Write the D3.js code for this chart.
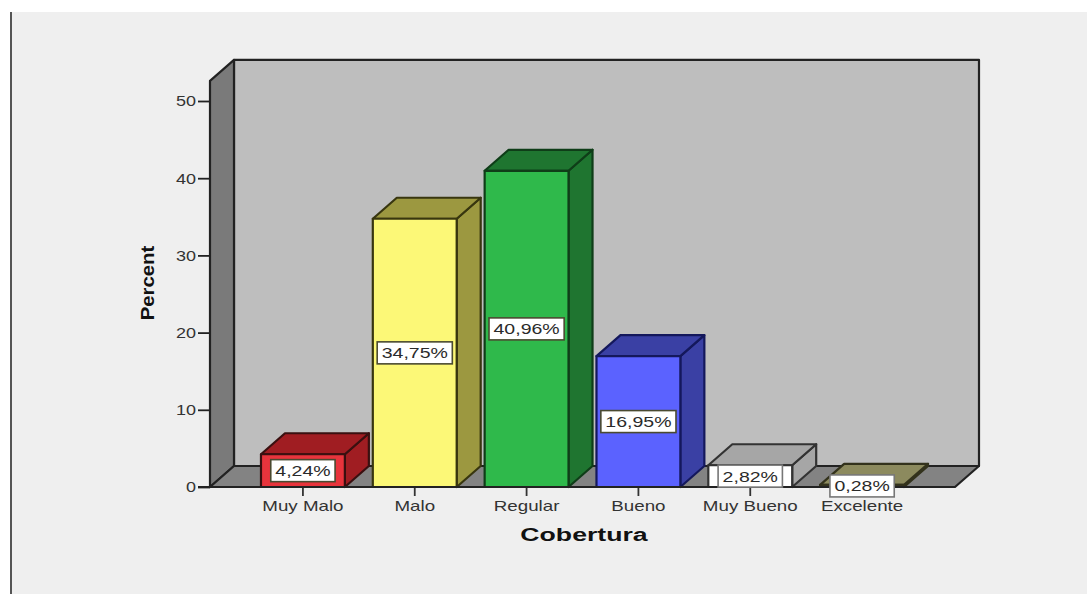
<!DOCTYPE html>
<html>
<head>
<meta charset="utf-8">
<script src="https://cdnjs.cloudflare.com/ajax/libs/d3/7.8.5/d3.min.js"></script>
<style>
  html, body { margin: 0; padding: 0; background: #fff; }
  svg { display: block; font-family: "Liberation Sans", Arial, sans-serif; }
</style>
</head>
<body>
<svg id="chart" width="1087" height="594"></svg>
<script>
const categories = ["Muy Malo", "Malo", "Regular", "Bueno", "Muy Bueno", "Excelente"];
const percents = [4.24, 34.75, 40.96, 16.95, 2.82, 0.28];
const valueLabels = ["4,24%", "34,75%", "40,96%", "16,95%", "2,82%", "0,28%"];
const frontColors = ["#e8343c", "#fcf877", "#2fb94b", "#5b62ff", "#ffffff", "#fcf877"];
const sideColors = ["#a01d22", "#9c9840", "#1f7530", "#3a40a4", "#a6a6a6", "#8c8a5e"];
const topColors = ["#a01d22", "#9c9840", "#1f7530", "#3a40a4", "#a6a6a6", "#8c8a5e"];
const edgeColors = ["#3a1010", "#38360f", "#0f3d18", "#14185c", "#333333", "#33321c"];
const yTicks = [0, 10, 20, 30, 40, 50];
const wallTopValue = 52.6;

const svg = d3.select("#chart");
const depthX = 24, depthY = 21;
const y = d3.scaleLinear().domain([0, 50]).range([487, 101]);
const x = d3.scaleBand().domain(categories).range([247, 918])
  .paddingInner(0.25).paddingOuter(0.125);
const floorLeft = 210, floorRight = 955;

// Widens text horizontally while keeping its height
function widen(sel, factor) {
  sel.each(function () {
    const len = this.getComputedTextLength();
    d3.select(this).attr("textLength", len * factor).attr("lengthAdjust", "spacingAndGlyphs");
  });
}
const poly = pts => pts.map(p => p.join(",")).join(" ");

// Panel background and the rule along its left side
svg.append("rect").attr("x", 11).attr("y", 12).attr("width", 1076).attr("height", 582).attr("fill", "#efefef");
svg.append("line").attr("x1", 11).attr("x2", 11).attr("y1", 12).attr("y2", 594)
  .attr("stroke", "#555").attr("stroke-width", 2);

// Back wall, side wall and floor of the 3D box
const wallTop = y(wallTopValue), base = y(0);
const wallStroke = { stroke: "#222", width: 2.2 };
function face(points, fill, stroke, width) {
  return svg.append("polygon").attr("points", poly(points)).attr("fill", fill)
    .attr("stroke", stroke).attr("stroke-width", width).attr("stroke-linejoin", "round");
}
face([[floorLeft + depthX, wallTop - depthY], [floorRight + depthX, wallTop - depthY],
      [floorRight + depthX, base - depthY], [floorLeft + depthX, base - depthY]], "#bebebe", wallStroke.stroke, wallStroke.width);
face([[floorLeft, wallTop], [floorLeft + depthX, wallTop - depthY],
      [floorLeft + depthX, base - depthY], [floorLeft, base]], "#7a7a7a", wallStroke.stroke, wallStroke.width);
face([[floorLeft, base], [floorLeft + depthX, base - depthY],
      [floorRight + depthX, base - depthY], [floorRight, base]], "#838383", wallStroke.stroke, wallStroke.width);

// Value axis
const yAxis = svg.append("g").attr("transform", `translate(${floorLeft},0)`)
  .call(d3.axisLeft(y).tickValues(yTicks).tickSize(12).tickPadding(2).tickFormat(d3.format("d")));
yAxis.select(".domain").remove();
yAxis.selectAll("line").attr("stroke", "#222").attr("stroke-width", 1.8);
yAxis.selectAll("text").attr("font-size", 15).attr("fill", "#333").call(widen, 1.2);

// Category axis
const xAxis = svg.append("g").attr("transform", `translate(0,${base})`)
  .call(d3.axisBottom(x).tickSize(9).tickPadding(4));
xAxis.select(".domain").remove();
xAxis.selectAll("line").attr("stroke", "#333").attr("stroke-width", 1.8);
xAxis.selectAll("text").attr("font-size", 15).attr("fill", "#333").call(widen, 1.25);

// Bars: side, top, then front face
const bars = svg.append("g").selectAll("g").data(categories).join("g");
bars.each(function (c, i) {
  const g = d3.select(this);
  const x0 = x(c), x1 = x0 + x.bandwidth(), yv = y(percents[i]);
  const add = (pts, fill) => g.append("polygon").attr("points", poly(pts)).attr("fill", fill)
    .attr("stroke", edgeColors[i]).attr("stroke-width", 2.2).attr("stroke-linejoin", "round");
  add([[x1, yv], [x1 + depthX, yv - depthY], [x1 + depthX, base - depthY], [x1, base]], sideColors[i]);
  add([[x0, yv], [x0 + depthX, yv - depthY], [x1 + depthX, yv - depthY], [x1, yv]], topColors[i]);
  add([[x0, yv], [x1, yv], [x1, base], [x0, base]], frontColors[i]);
});

// Baseline running under the floor and tick of zero
svg.append("line").attr("x1", 198).attr("x2", floorRight).attr("y1", base).attr("y2", base)
  .attr("stroke", "#222").attr("stroke-width", 2);

// Value labels in boxes centred on each bar's front face
const labels = svg.append("g").selectAll("g").data(categories).join("g")
  .attr("transform", (c, i) => `translate(${x(c) + x.bandwidth() / 2},${(y(percents[i]) + base) / 2})`);
labels.append("text").text((c, i) => valueLabels[i])
  .attr("text-anchor", "middle").attr("dy", "0.36em")
  .attr("font-size", 15).attr("fill", "#2a2a2a").call(widen, 1.3);
labels.insert("rect", "text").each(function () {
  const w = this.parentNode.querySelector("text").getComputedTextLength();
  d3.select(this).attr("x", -w / 2 - 4.5).attr("y", -11).attr("width", w + 9).attr("height", 22);
}).attr("fill", "#fff").attr("stroke", (c, i) => i === 4 || i === 5 ? "#777" : "#4a4a30").attr("stroke-width", 1.6);

// Axis titles
const yTitle = svg.append("text").text("Percent")
  .attr("transform", "translate(147,283) rotate(-90)")
  .attr("text-anchor", "middle").attr("dy", "0.36em")
  .attr("font-size", 19).attr("font-weight", "bold").attr("fill", "#111");
yTitle.call(widen, 1.07);
const xTitle = svg.append("text").text("Cobertura")
  .attr("x", 584).attr("y", 535).attr("text-anchor", "middle").attr("dy", "0.36em")
  .attr("font-size", 18).attr("font-weight", "bold").attr("fill", "#111");
xTitle.call(widen, 1.48);
</script>
</body>
</html>
